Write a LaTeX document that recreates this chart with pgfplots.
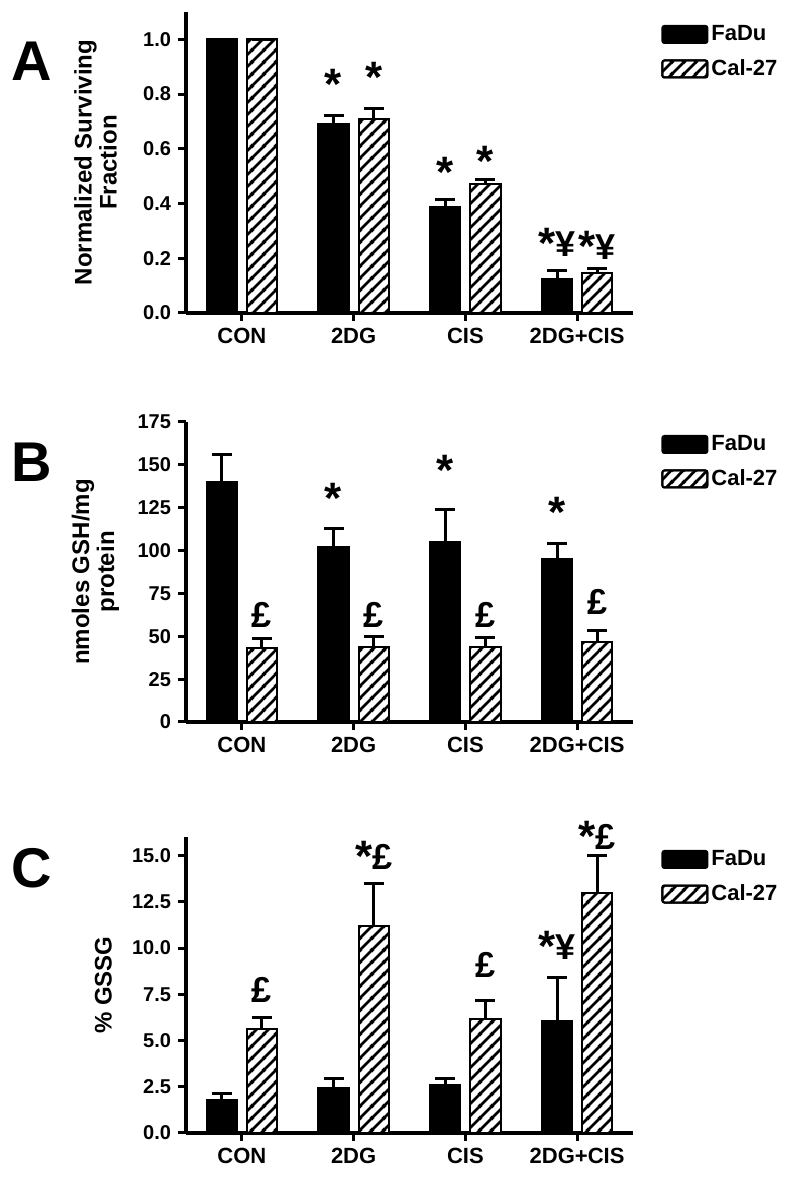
\documentclass[border=0pt]{standalone}
\usepackage{fontspec}
\setmainfont{Liberation Sans}
\usepackage{pgfplots}
\pgfplotsset{compat=1.18}
\usetikzlibrary{patterns.meta}

\tikzdeclarepattern{
  name=hatch,
  bounding box={(0pt,0pt) and (6pt,6pt)},
  tile size={(6pt,6pt)},
  code={
    \draw[line width=1.4pt] (-1pt,-1pt) -- (7pt,7pt);
    \draw[line width=1.4pt] (-1pt,5pt) -- (1pt,7pt);
    \draw[line width=1.4pt] (5pt,-1pt) -- (7pt,1pt);
  }
}

\newcommand{\Ast}{{\fontsize{22}{22}\selectfont *}}
\newcommand{\AstL}{\raisebox{-0.8pt}{\Ast}}
\newcommand{\Yen}{{\fontsize{18}{18}\selectfont ¥}}
\newcommand{\Pnd}{{\fontsize{18}{18}\selectfont £}}

\tikzset{note/.style={anchor=base, inner sep=0pt, font=\bfseries}}

\pgfplotsset{
  panel/.style={
    anchor=south west, scale only axis, width=223.5pt,
    axis lines=left, axis line style={-, line width=2pt},
    xmin=-0.5, xmax=3.5, xtick={0,1,2,3},
    xticklabels={CON,2DG,CIS,2DG+CIS},
    ymin=0,
    tick align=outside, major tick length=4pt,
    every tick/.append style={black, line width=1.5pt},
    yticklabel style={font=\bfseries\fontsize{10}{10}\selectfont},
    xticklabel style={font=\bfseries\fontsize{11}{12}\selectfont},
    /pgf/number format/assume math mode=true,
    ylabel style={align=center, anchor=south, font=\bfseries\fontsize{12}{12.5}\selectfont},
    clip=false,
    legend style={draw=none, fill=none, at={(1,1)}, anchor=north west,
      xshift=14pt, yshift=-5pt, font=\bfseries\fontsize{11}{12}\selectfont,
      row sep=5pt, inner sep=0pt, nodes={inner sep=1.5pt}},
    legend cell align=left,
    legend image code/.code={\draw[##1, rounded corners=1pt] (0pt,-4.25pt) rectangle (22.5pt,4.25pt);},
  },
  errs/.style={
    /pgfplots/error bars/y dir=plus, /pgfplots/error bars/y explicit,
    /pgfplots/error bars/error bar style={line width=1.5pt, black},
    /pgfplots/error bars/error mark options={rotate=90, line width=1.5pt, mark size=5pt, black}},
  fadu/.style={ybar, bar width=0.27, bar shift=0pt, fill=black, draw=black, line width=1pt, errs},
  cal/.style={ybar, bar width=0.27, bar shift=0pt, fill=white, draw=black, line width=1pt,
    postaction={pattern=hatch}, errs},
}

\begin{document}
\begin{tikzpicture}
\useasboundingbox (0,0) rectangle (394.5pt,589pt);

% panel letters
\node[font=\bfseries\fontsize{28}{28}\selectfont] at (16pt,558.5pt) {A};
\node[font=\bfseries\fontsize{28}{28}\selectfont] at (16pt,358pt) {B};
\node[font=\bfseries\fontsize{28}{28}\selectfont] at (16pt,155pt) {C};

% A: surviving fraction
\begin{axis}[panel, at={(93pt,432.5pt)}, height=150.5pt, ymax=1.1,
  ytick={0,0.2,0.4,0.6,0.8,1.0},
  yticklabel style={/pgf/number format/fixed, /pgf/number format/fixed zerofill, /pgf/number format/precision=1},
  ylabel={Normalized Surviving\\Fraction},
  ylabel style={at={(axis description cs:-0.139,0.5)}}]
\addplot[fadu] coordinates {(-0.18,1.0) +- (0,0) (0.82,0.692) +- (0,0.029) (1.82,0.389) +- (0,0.027) (2.82,0.125) +- (0,0.029)};
\addlegendentry{FaDu}
\addplot[cal] coordinates {(0.18,1.0) +- (0,0) (1.18,0.710) +- (0,0.037) (2.18,0.472) +- (0,0.017) (3.18,0.147) +- (0,0.014)};
\addlegendentry{Cal-27}
\node[note] at (axis cs:0.82,0.781) {\Ast};
\node[note] at (axis cs:1.18,0.806) {\Ast};
\node[note] at (axis cs:1.82,0.457) {\Ast};
\node[note] at (axis cs:2.18,0.499) {\Ast};
\node[note] at (axis cs:2.82,0.206) {\AstL\Yen};
\node[note] at (axis cs:3.18,0.195) {\AstL\Yen};
\end{axis}

% B: GSH
\begin{axis}[panel, at={(93pt,228pt)}, height=150pt, ymax=175,
  ytick={0,25,50,75,100,125,150,175},
  ylabel={nmoles GSH/mg\\protein},
  ylabel style={at={(axis description cs:-0.134,0.5)}}]
\addplot[fadu] coordinates {(-0.18,140) +- (0,16) (0.82,102) +- (0,11) (1.82,105) +- (0,19) (2.82,95) +- (0,9)};
\addlegendentry{FaDu}
\addplot[cal] coordinates {(0.18,43) +- (0,5.6) (1.18,43.5) +- (0,6.5) (2.18,43.5) +- (0,6) (3.18,46.6) +- (0,7)};
\addlegendentry{Cal-27}
\node[note] at (axis cs:0.82,121.6) {\Ast};
\node[note] at (axis cs:1.82,138) {\Ast};
\node[note] at (axis cs:2.82,113.6) {\Ast};
\node[note] at (axis cs:0.18,54.9) {\Pnd};
\node[note] at (axis cs:1.18,54.9) {\Pnd};
\node[note] at (axis cs:2.18,54.9) {\Pnd};
\node[note] at (axis cs:3.18,62.7) {\Pnd};
\end{axis}

% C: GSSG
\begin{axis}[panel, at={(93pt,22.5pt)}, height=148pt, ymax=16,
  ytick={0,2.5,5,7.5,10,12.5,15},
  yticklabel style={/pgf/number format/fixed, /pgf/number format/fixed zerofill, /pgf/number format/precision=1},
  ylabel={\% GSSG},
  ylabel style={at={(axis description cs:-0.15,0.5)}}]
\addplot[fadu] coordinates {(-0.18,1.81) +- (0,0.3) (0.82,2.41) +- (0,0.53) (1.82,2.59) +- (0,0.37) (2.82,6.08) +- (0,2.3)};
\addlegendentry{FaDu}
\addplot[cal] coordinates {(0.18,5.62) +- (0,0.64) (1.18,11.19) +- (0,2.27) (2.18,6.17) +- (0,1.01) (3.18,12.97) +- (0,2.03)};
\addlegendentry{Cal-27}
\node[note] at (axis cs:0.18,7.03) {\Pnd};
\node[note] at (axis cs:1.18,14.24) {\AstL\Pnd};
\node[note] at (axis cs:2.18,8.38) {\Pnd};
\node[note] at (axis cs:2.82,9.37) {\AstL\Yen};
\node[note] at (axis cs:3.18,15.3) {\AstL\Pnd};
\end{axis}
\end{tikzpicture}
\end{document}
